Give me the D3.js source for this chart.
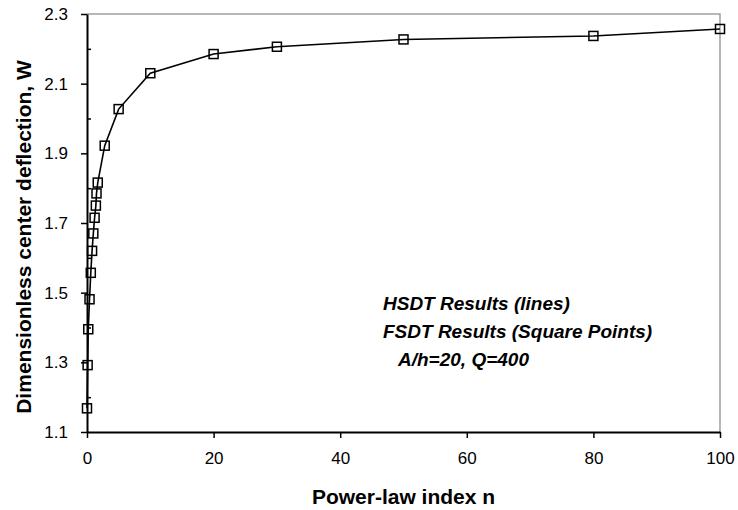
<!DOCTYPE html>
<html>
<head>
<meta charset="utf-8">
<script src="https://cdn.jsdelivr.net/npm/d3@7"></script>
<style>
    body { margin: 0; background: #fff; }
    svg { display: block; font-family: Arial, "Liberation Sans", sans-serif; }
</style>
</head>
<body>
<svg width="738" height="510"></svg>
<script>
// power-law index n and deflection values
const powerIndex = [0, 0.1, 0.2, 0.4, 0.6, 0.8, 1, 1.2, 1.4, 1.5, 1.7, 2.8, 5, 10, 20, 30, 50, 80, 100];
const hsdtW = [1.168, 1.292, 1.395, 1.481, 1.557, 1.620, 1.670, 1.715, 1.750, 1.785, 1.816, 1.922, 2.027, 2.130, 2.185, 2.206, 2.227, 2.237, 2.257];
const fsdtW = [1.168, 1.292, 1.395, 1.481, 1.557, 1.620, 1.670, 1.715, 1.750, 1.785, 1.816, 1.922, 2.027, 2.130, 2.185, 2.206, 2.227, 2.237, 2.257];

const xTicks = [0, 20, 40, 60, 80, 100];
const yTicks = [1.1, 1.3, 1.5, 1.7, 1.9, 2.1, 2.3];
const yMinorTicks = [1.2, 1.4, 1.6, 1.8, 2.0, 2.2];

const notes = ['HSDT Results (lines)', 'FSDT Results (Square Points)', 'A/h=20, Q=400'];
const labels = { x: 'Power-law index n', y: 'Dimensionless center deflection, W' };

const margens = { left: 87, right: 18, top: 14, bottom: 78 };

const svg = d3.select('svg');
const svgWidth = +svg.attr('width') - margens.left - margens.right;
const svgHeight = +svg.attr('height') - margens.top - margens.bottom;

// ---- Escalas
const mapX = d3.scaleLinear().domain([0, 100]).range([0, svgWidth]);
const mapY = d3.scaleLinear().domain([1.1, 2.3]).range([svgHeight, 0]);

const g = svg.append('g')
    .attr('transform', `translate(${margens.left}, ${margens.top})`);

// frame (top and right, gray)
g.append('path')
    .attr('d', `M0,0H${svgWidth}V${svgHeight}`)
    .attr('fill', 'none')
    .attr('stroke', '#a0a0a0')
    .attr('stroke-width', 1.5);

// ---- Eixos
const xAxis = d3.axisBottom(mapX).tickValues(xTicks).tickSizeInner(6).tickSizeOuter(0).tickPadding(14);
const gx = g.append('g')
    .attr('transform', `translate(0, ${svgHeight})`)
    .call(xAxis);

const yAxis = d3.axisLeft(mapY).tickValues(yTicks).tickFormat(d3.format('.1f')).tickSizeInner(6).tickSizeOuter(0).tickPadding(13);
const gy = g.append('g').call(yAxis);

const yMinor = d3.axisLeft(mapY).tickValues(yMinorTicks).tickFormat('').tickSizeInner(-4).tickSizeOuter(0);
g.append('g').call(yMinor).select('.domain').remove();

g.selectAll('.tick line').attr('stroke', '#000').attr('stroke-width', 1.5);
gx.select('.domain').attr('stroke', '#000').attr('stroke-width', 2);
gy.select('.domain').attr('stroke', '#000').attr('stroke-width', 2);
g.selectAll('.tick text')
    .attr('fill', '#000')
    .style('font-size', '17px')
    .style('font-family', 'Arial, "Liberation Sans", sans-serif');

// ---- Labels
svg.append('text')
    .attr('x', margens.left + svgWidth / 2)
    .attr('y', 504)
    .style('text-anchor', 'middle')
    .style('font-size', '21px')
    .style('font-weight', 'bold')
    .text(labels.x);

svg.append('text')
    .attr('transform', `translate(31, ${margens.top + svgHeight / 2 + 14}) rotate(-90)`)
    .style('text-anchor', 'middle')
    .style('font-size', '21px')
    .style('font-weight', 'bold')
    .text(labels.y);

// ---- HSDT line
const line = d3.line()
    .x((d, i) => mapX(powerIndex[i]))
    .y(d => mapY(d));

g.append('path')
    .datum(hsdtW)
    .attr('d', line)
    .attr('fill', 'none')
    .attr('stroke', '#000')
    .attr('stroke-width', 1.6);

// ---- FSDT square points
const sq = 9;
g.selectAll('rect.pt')
    .data(fsdtW)
    .join('rect')
    .attr('class', 'pt')
    .attr('x', (d, i) => mapX(powerIndex[i]) - sq / 2)
    .attr('y', d => mapY(d) - sq / 2)
    .attr('width', sq)
    .attr('height', sq)
    .attr('fill', 'none')
    .attr('stroke', '#000')
    .attr('stroke-width', 1.5);

// ---- notes
svg.selectAll('text.note')
    .data(notes)
    .join('text')
    .attr('class', 'note')
    .attr('x', (d, i) => i === 2 ? 398 : 383)
    .attr('y', (d, i) => [310, 338, 366][i])
    .style('font-size', '19px')
    .style('font-weight', 'bold')
    .style('font-style', 'italic')
    .text(d => d);
</script>
</body>
</html>
